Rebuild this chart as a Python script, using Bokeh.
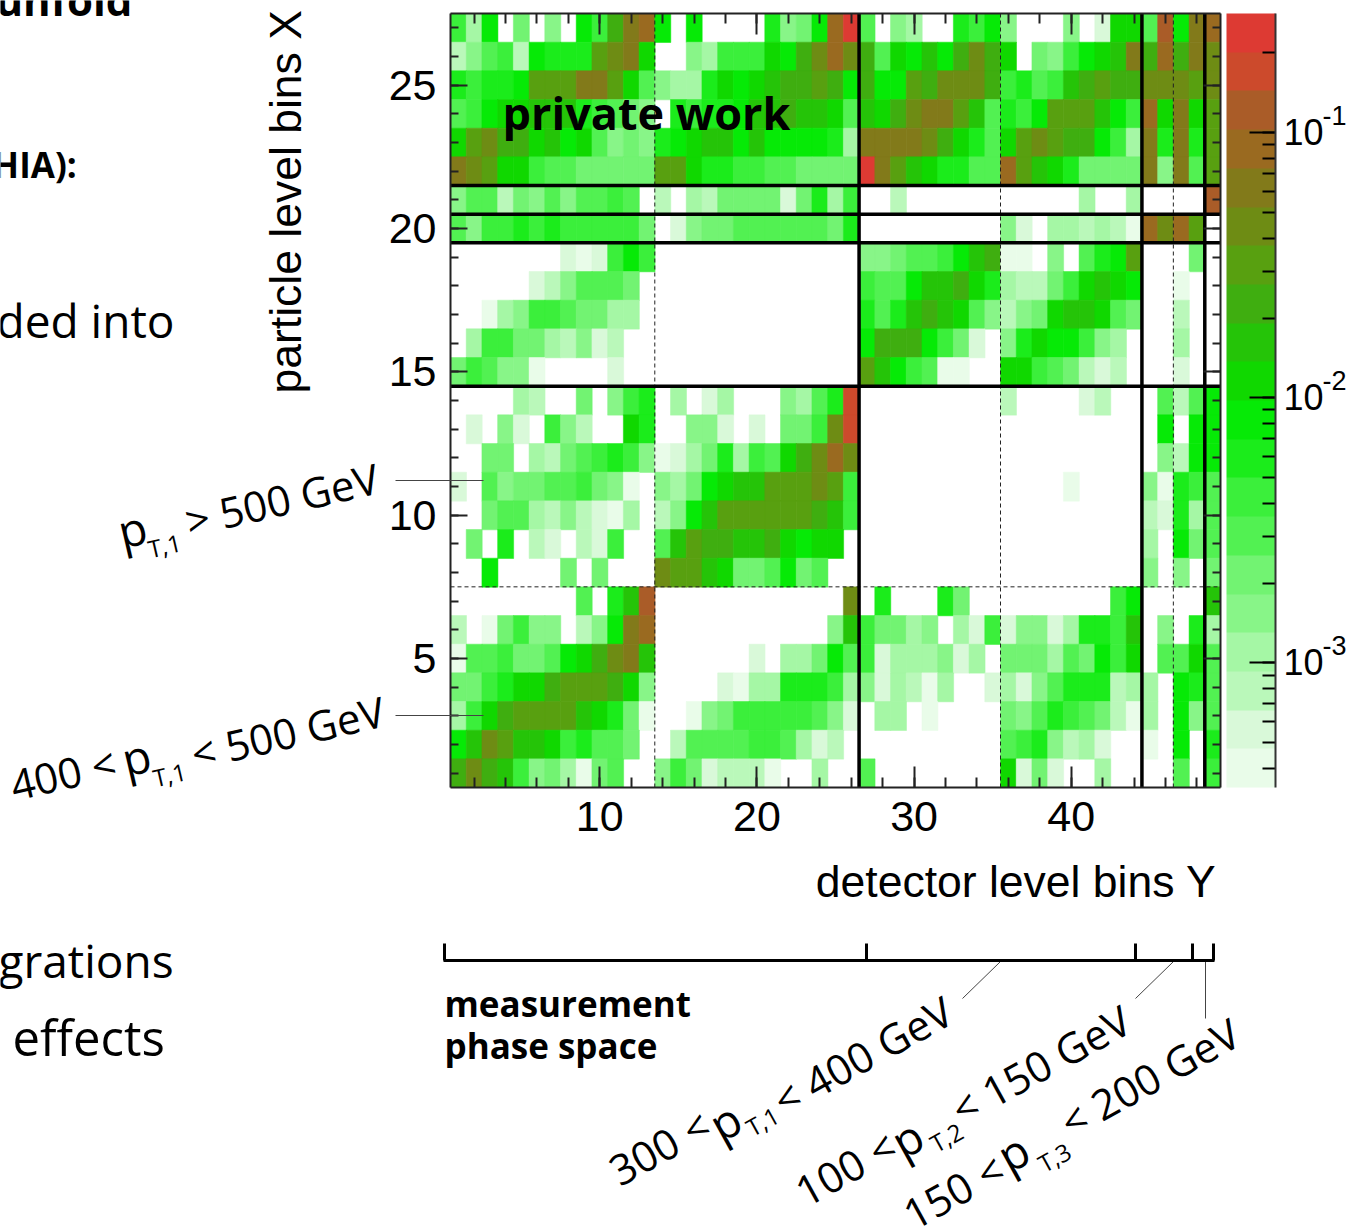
import math
from bokeh.plotting import figure
from bokeh.embed import file_html
from bokeh.resources import INLINE
from bokeh.core.properties import value
from bokeh.layouts import column
from bokeh.models import (ColumnDataSource, LogColorMapper, ColorBar, LogTicker, CustomJSTickFormatter,
                          FixedTicker, LinearAxis, Range1d)

_ = None
# colour level of every cell, top row (bin 27) first; None = empty
rows = [
 [7,3,9,_,5,_,4,_,9,7,12,15,16,9,_,9,_,_,_,_,8,4,5,9,16,19, 6,_,4,3,_,_,8,7,9,4,_,_,_,4,_,1,10,10,6,17,9,15,16],
 [2,4,6,7,2,9,8,8,8,13,14,15,10,_,_,4,3,7,7,7,10,9,12,14,16,14, 12,6,10,9,11,9,12,14,12,10,_,5,4,7,9,10,11,15,12,16,12,15,14],
 [8,7,8,8,9,13,13,13,15,15,13,10,6,4,3,3,8,10,9,10,11,12,12,13,12,9, 12,9,9,13,12,14,14,14,12,7,8,6,7,11,12,13,12,12,14,14,14,13,14],
 [6,7,9,10,10,11,11,11,8,7,6,5,4,_,8,7,8,8,9,11,11,12,11,11,10,6, 11,10,12,14,15,15,13,11,6,8,7,9,13,13,13,11,9,7,16,10,15,10,13],
 [10,13,14,12,12,10,11,9,10,6,4,5,4,8,9,10,11,11,9,11,9,9,9,9,8,3, 15,15,15,15,14,12,10,8,6,10,13,14,13,12,12,9,7,3,15,8,15,8,13],
 [15,14,13,10,10,7,6,6,5,5,5,5,5,13,13,10,8,8,7,7,6,6,5,5,5,5, 19,15,13,11,10,8,8,6,6,16,13,11,10,8,5,5,5,5,15,4,15,6,13],
 [4,6,6,2,5,4,6,4,6,6,7,6,_,2,_,3,2,5,5,5,5,1,5,8,3,7, _,_,2,_,_,_,_,_,_,_,_,_,_,_,3,_,_,3,_,_,_,_,17],
 [6,4,7,7,8,7,8,7,7,7,7,7,5,_,1,4,5,5,6,6,6,6,6,6,5,8, _,_,_,_,_,_,_,_,_,4,1,_,3,3,2,3,2,0,16,14,16,13,_],
 [_,_,_,_,_,_,_,1,0,1,7,9,7,_,_,_,_,_,_,_,_,_,_,_,_,_, 4,4,5,6,6,7,9,11,12,0,0,_,4,_,6,8,9,13,_,_,_,5,_],
 [_,_,_,_,_,1,2,4,6,6,6,5,_,_,_,_,_,_,_,_,_,_,_,_,_,_, 7,6,6,9,11,11,12,10,8,3,2,2,5,7,10,11,10,9,_,_,0,_,_],
 [_,_,0,3,4,7,7,6,5,5,3,3,_,_,_,_,_,_,_,_,_,_,_,_,_,_, 8,6,8,11,12,11,10,6,4,2,4,5,10,11,11,10,6,5,_,_,2,_,_],
 [_,3,7,7,5,5,3,2,4,1,2,_,_,_,_,_,_,_,_,_,_,_,_,_,_,_, 9,12,12,12,9,7,5,1,_,4,8,10,9,9,7,4,3,_,_,_,3,_,_],
 [5,7,6,4,4,0,_,_,_,_,1,_,_,_,_,_,_,_,_,_,_,_,_,_,_,_, 13,11,9,7,6,0,0,_,_,10,10,7,6,5,2,1,2,_,_,_,1,_,_],
 [_,_,_,_,3,2,_,_,5,_,4,7,8,_,3,_,1,3,_,_,_,4,3,6,8,18, _,_,_,_,_,_,_,_,_,2,_,_,_,_,1,2,_,_,_,6,2,6,9],
 [_,1,_,4,1,_,7,4,2,_,_,10,8,_,_,4,4,1,_,1,_,5,5,7,14,18, _,_,_,_,_,_,_,_,_,_,_,_,_,_,_,_,_,_,_,9,_,9,9],
 [_,_,5,5,_,3,2,5,6,7,8,7,4,0,1,3,5,8,3,7,6,10,12,14,16,14, _,_,_,_,_,_,_,_,_,_,_,_,_,_,_,_,_,_,_,4,2,9,9],
 [1,_,6,4,5,5,6,6,7,5,4,0,_,4,3,5,9,10,11,11,13,13,13,14,13,7, _,_,_,_,_,_,_,_,_,_,_,_,_,0,_,_,_,_,4,0,8,7,6],
 [_,_,5,6,6,3,2,4,2,1,0,3,_,2,4,9,11,13,13,13,13,13,13,12,11,7, _,_,_,_,_,_,_,_,_,_,_,_,_,_,_,_,_,_,2,1,8,3,6],
 [_,5,_,8,_,2,1,_,2,1,7,_,_,6,11,13,12,12,11,11,12,10,9,10,10,_, _,_,_,_,_,_,_,_,_,_,_,_,_,_,_,_,_,_,3,_,9,5,6],
 [_,_,9,_,_,_,_,5,_,5,_,_,_,14,13,13,11,10,5,5,6,9,5,6,_,_, _,_,_,_,_,_,_,_,_,_,_,_,_,_,_,_,_,_,4,_,4,_,5],
 [_,_,_,_,_,_,_,_,6,_,8,11,17,_,_,_,_,_,_,_,_,_,_,_,_,14, _,8,_,_,_,8,5,_,_,_,_,_,_,_,_,_,7,9,_,_,_,_,11],
 [2,_,0,5,7,4,4,_,2,4,9,15,16,_,_,_,_,_,_,_,_,_,_,_,4,11, 7,5,5,3,4,_,3,1,7,1,4,4,1,3,8,8,7,11,_,4,_,8,3],
 [0,6,6,7,5,5,6,9,10,12,14,15,11,_,_,_,_,_,_,1,_,3,3,5,9,6, 7,1,3,3,3,4,1,3,_,5,5,5,3,6,5,9,7,10,_,6,6,10,6],
 [5,5,7,8,10,10,12,13,13,13,12,10,4,_,_,_,_,1,0,3,3,8,8,8,7,3, 4,1,3,2,0,3,_,_,1,3,1,4,6,8,8,8,2,3,3,_,9,8,6],
 [3,7,10,12,13,13,13,13,11,10,8,5,0,_,_,0,4,5,7,7,7,7,7,6,4,1, _,3,3,_,0,_,_,_,_,5,4,6,8,7,6,5,2,0,3,_,9,4,6],
 [9,11,14,13,11,11,10,7,8,6,6,5,_,_,2,6,6,6,6,7,7,6,3,1,2,_, _,_,_,_,_,_,_,_,_,6,7,8,4,2,3,1,_,_,0,_,9,_,8],
 [12,14,12,11,7,4,5,3,0,5,6,_,_,4,7,5,1,2,2,2,0,_,_,3,_,_, 6,_,_,_,_,_,_,_,_,10,1,5,1,_,_,3,_,_,_,_,6,_,7],
]
palette = ["#e9fce9","#d9f9d9","#baf8ba","#a5f7a5","#88f588","#72f372","#52f152","#3bef3b","#1bec1b","#06ea06",
           "#10d800","#25c408","#3fae10","#58a010","#6e8c14","#827a1a","#9a6a20","#aa5c28","#cc4a2c","#dd3a33"]
log_low, log_high = -3.47, -0.55
x_ticks = [10, 20, 30, 40]
y_ticks = [5, 10, 15, 20, 25]
x_minor = list(range(2, 50, 2))
y_minor = list(range(1, 28))
thick_x = [26.5, 44.5, 48.5]
thick_y = [14.5, 19.5, 20.5, 21.5]
dash_x = [13.5, 35.5, 46.5]
dash_y = [7.5]
bar_exponents = ["-1", "-2", "-3"]

step = (log_high - log_low) / len(palette)
xs, ys, vs = [], [], []
for i, row in enumerate(rows):
    for j, lev in enumerate(row):
        if lev is not None:
            xs.append(j + 1); ys.append(27 - i); vs.append(10 ** (log_low + (lev + 0.5) * step))

W, H = 1348, 1229
FL, FT, FR, FB = 450, 13, 1220, 787
mapper = LogColorMapper(palette=palette, low=10 ** log_low, high=10 ** log_high)
p = figure(width=W, height=H, output_backend="svg", toolbar_location=None,
           x_range=Range1d(0.5, 49.5), y_range=Range1d(0.5, 27.5),
           min_border_left=FL, min_border_top=FT, min_border_right=W - FR, min_border_bottom=H - FB,
           x_axis_type=None, y_axis_type=None, outline_line_color=None, frame_align=False)
p.grid.visible = False

src = ColumnDataSource(dict(x=xs, y=ys, v=vs))
t = {"field": "v", "transform": mapper}
p.rect("x", "y", 1, 1, source=src, fill_color=t, line_color=t, line_width=0.5, dilate=True)

p.segment(x0=dash_x, x1=dash_x, y0=[0.5] * 3, y1=[27.5] * 3, line_color="#222222", line_width=1, line_dash="4 3")
p.segment(x0=[0.5], x1=[49.5], y0=dash_y, y1=dash_y, line_color="#222222", line_width=1, line_dash="4 3")
p.segment(x0=thick_x, x1=thick_x, y0=[0.5] * 3, y1=[27.5] * 3, line_color="black", line_width=3.5)
p.segment(x0=[0.5] * 4, x1=[49.5] * 4, y0=thick_y, y1=thick_y, line_color="black", line_width=3.5)

SANS = "Liberation Sans"
def make_axis(cls_ticker, labelled, major_len, minor_len):
    ax = LinearAxis(ticker=cls_ticker, axis_line_width=2, axis_line_color="#222222",
                    major_tick_in=major_len, major_tick_out=0, minor_tick_in=minor_len, minor_tick_out=0,
                    major_tick_line_width=2, minor_tick_line_width=2,
                    major_tick_line_color="#222222", minor_tick_line_color="#222222",
                    major_label_text_font=SANS, major_label_text_font_size="43px", major_label_text_color="black")
    if not labelled:
        ax.major_label_overrides = {k: "" for k in cls_ticker.ticks}
        ax.major_label_standoff = 0
        ax.major_label_text_font_size = "1px"
    return ax

xt = FixedTicker(ticks=x_ticks, minor_ticks=x_minor)
yt = FixedTicker(ticks=y_ticks, minor_ticks=y_minor)
b = make_axis(xt, True, 21, 10); b.major_label_standoff = 14
l = make_axis(yt, True, 17, 8); l.major_label_standoff = 14
p.add_layout(b, "below"); p.add_layout(l, "left")
p.add_layout(make_axis(xt, False, 21, 10), "above")
p.add_layout(make_axis(yt, False, 17, 8), "right")

cb = ColorBar(color_mapper=mapper, ticker=LogTicker(num_minor_ticks=10),
              formatter=CustomJSTickFormatter(code="return ''"),
              width=49, height=FB - FT, margin=0, padding=0, location=(6, 0),
              major_tick_in=26, major_tick_out=0, minor_tick_in=13, minor_tick_out=0,
              major_tick_line_color="black", minor_tick_line_color="black",
              major_tick_line_width=2, minor_tick_line_width=2,
              bar_line_color=None, major_label_text_font_size="1px", label_standoff=0)
p.add_layout(cb, "right")

# transparent sheet in page pixels for the texts and lines outside the plot
o = figure(width=W, height=H, output_backend="svg", toolbar_location=None,
           x_range=Range1d(0, W), y_range=Range1d(H, 0), min_border=0,
           x_axis_type=None, y_axis_type=None, outline_line_color=None, frame_align=False,
           background_fill_color=None, border_fill_color=None, margin=(-H, 0, 0, 0))
o.grid.visible = False

def txt(x, y, s, size, angle=0.0, font="Open Sans", style="normal", align="left"):
    # (x, y) is the start of the baseline; the glyph's anchor sits about 0.4 em above it
    d = 0.4 * size
    a = math.radians(angle)
    o.text(x=[x - d * math.sin(a)], y=[y - d * math.cos(a)], text=[s], angle=[a], text_font=value(font),
           text_font_size=f"{size}px", text_font_style=style, text_color="black",
           text_baseline="alphabetic", text_align=align)

def ln(x0, y0, x1, y1, w=1.0, c="black"):
    o.line(x=[x0, x1], y=[y0, y1], line_width=w, line_color=c)

txt(1216, 899, "detector level bins Y", 44.5, font=SANS, align="right")
txt(303, 393, "particle level bins X", 44.5, angle=90, font=SANS)

txt(502, 130, "private work", 45, style="bold")

# colour bar labels
for yy, e in zip((146, 411, 676), bar_exponents):
    txt(1283, yy, "10", 36, font=SANS)
    txt(1322, yy - 20, e, 27, font=SANS)

# page text cut off by the screenshot edge
txt(-5, 16, "unfold", 42, style="bold")
txt(-20, 178, "(HIA):", 35, style="bold")
txt(-4, 338, "ded into", 46)
txt(-2, 978, "grations", 46)
txt(12, 1056, "effects", 49)

txt(444, 1017, "measurement", 35, style="bold")
txt(444, 1059, "phase space", 35, style="bold")

# colour bar edge
ln(1275, 13, 1275, 787, 2, "#333333")

# leader lines
ln(395, 480, 483, 480, 1, "#444444"); ln(395, 715, 483, 715, 1, "#444444")
ln(1000, 961, 962, 998, 1, "#444444"); ln(1173, 961, 1135, 998, 1, "#444444"); ln(1205, 961, 1205, 1018, 1, "#444444")

# bracket
ln(443, 960, 1214, 960, 3)
for bx in (444, 866, 1135, 1192, 1213):
    ln(bx, 943, bx, 960, 3)

# rotated labels
a1 = 13.0
P = 46
txt(122, 549, "p", P, a1); txt(150, 558, "T,1", 24, a1); txt(189, 537, "> 500 GeV", 42, a1)
txt(14, 801, "400 <", 42, a1); txt(126, 777, "p", P, a1); txt(155, 787, "T,1", 24, a1); txt(195, 770, "< 500 GeV", 42, a1)
a2 = 29.0
txt(620, 1187, "300 <", 42, a2); txt(721, 1143, "p", P, a2); txt(752, 1137, "T,1", 24, a2); txt(784, 1117, "< 400 GeV", 42, a2)
txt(806, 1208, "100 <", 42, a2); txt(903, 1160, "p", P, a2); txt(936, 1153, "T,2", 24, a2); txt(962, 1126, "< 150 GeV", 42, a2)
txt(914, 1231, "150 <", 42, a2); txt(1009, 1174, "p", P, a2); txt(1044, 1173, "T,3", 24, a2); txt(1071, 1139, "< 200 GeV", 42, a2)

page = column(p, o, width=W, height=H, spacing=0,
              styles={"position": "absolute", "left": "0px", "top": "0px"})
open("out.html", "w").write(file_html(page, INLINE))
